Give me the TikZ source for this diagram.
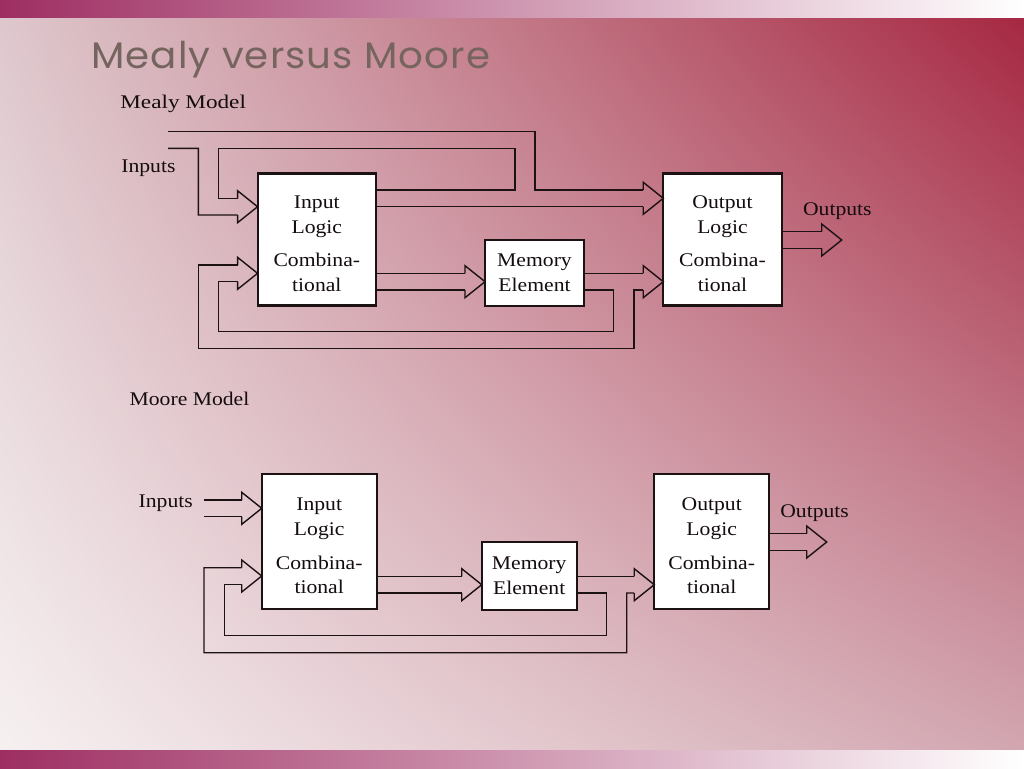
\documentclass[tikz,border=0pt]{standalone}
\usepackage{fontspec}
\setmainfont{Liberation Serif}
\newfontfamily\labelfont[FakeStretch=1.12]{Liberation Serif}
\newfontfamily\widefont[FakeStretch=1.2]{Liberation Serif}
\newfontfamily\titlefont[FakeStretch=1.05, LetterSpace=3]{Poppins}
\newcommand\boxfont{\labelfont\fontsize{11}{14.2}\selectfont}
\newcommand\logictext[1]{\rule{0pt}{12pt}#1\\Logic\\[5pt]Combina-\\tional}
\usetikzlibrary{shadings}
\definecolor{bgtl}{RGB}{222,200,205}
\definecolor{bgtr}{RGB}{166,40,66}
\definecolor{bgbl}{RGB}{246,240,241}
\definecolor{bgbr}{RGB}{210,166,176}
\definecolor{barcolor}{RGB}{158,46,98}
\definecolor{titlecolor}{RGB}{118,100,94}
\definecolor{textcolor}{RGB}{20,12,14}
\definecolor{wirecolor}{RGB}{28,18,20}
\tikzset{
  box/.style={
    draw=wirecolor,
    fill=white,
    line width=1.2pt,
    align=center,
    inner sep=0pt,
    outer sep=0pt,
    font=\boxfont,
    text=textcolor
  },
  logicbox/.style={box, minimum width=2.37cm, minimum height=2.64cm},
  memorybox/.style={box, minimum width=1.98cm, minimum height=1.32cm},
  wire/.style={draw=wirecolor, line width=0.8pt},
  modeltext/.style={anchor=base west, inner sep=0pt, font=\boxfont, text=textcolor},
  hollowhead/.pic={
    \draw[wire] (-20,-8.3) -- (-20,-16) -- (0,0) -- (-20,16) -- (-20,8.3);
    \coordinate (-top) at (-20,-8.3);
    \coordinate (-bot) at (-20,8.3);
  }
}

\begin{document}
\begin{tikzpicture}[x=0.02cm,y=-0.02cm]
  \useasboundingbox (0,0) rectangle (1024,768);
  \shade[upper left=bgtl, upper right=bgtr, lower left=bgbl, lower right=bgbr]
    (0,17) rectangle (1024,750);
  \shade[left color=barcolor, middle color=barcolor!35!white, right color=white]
    (0,0) rectangle (1024,17);
  \shade[left color=barcolor, middle color=barcolor!35!white, right color=white]
    (0,750) rectangle (1024,768);

  \node[anchor=base west, inner sep=0pt, text=titlecolor,
    font=\titlefont\fontsize{21}{24}\selectfont] (title) at (91,68)
    {Mealy versus Moore};

  % Mealy model.
  \node[modeltext, font=\widefont\fontsize{11}{14}\selectfont] (mealy) at (120,108) {Mealy Model};
  \node[modeltext] (inlabelA) at (121,172.7) {Inputs};
  \node[modeltext] (outlabelA) at (802.7,215.7) {Outputs};

  \node[logicbox] (inA) at (316.8,239.5) {\logictext{Input}};
  \node[memorybox] (memA) at (534.5,272.8) {Memory\\Element};
  \node[logicbox] (outA) at (722.5,239.5) {\logictext{Output}};

  \pic (hA1) at (inA.west |- 0,206.7) {hollowhead};
  \pic (hA2) at (inA.west |- 0,273.3) {hollowhead};
  \pic (hA3) at (memA.west |- 0,281.7) {hollowhead};
  \pic (hA4) at (outA.west |- 0,198.3) {hollowhead};
  \pic (hA5) at (outA.west |- 0,281.7) {hollowhead};
  \pic (hA6) at (841.7,240) {hollowhead};

  \coordinate (inputsA) at (168,131.7);
  \draw[wire] (inputsA) -| (535,190) -- (hA4-top);
  \draw[wire] (inputsA |- 0,148.3) -| (198.3,215) -- (hA1-bot);
  \draw[wire] (inA.east |- hA4-top) -| (515,148.3) -| (218.3,198.4) -- (hA1-top);
  \draw[wire] (inA.east |- hA4-bot) -- (hA4-bot);
  \draw[wire] (inA.east |- hA3-top) -- (hA3-top);
  \draw[wire] (inA.east |- hA3-bot) -- (hA3-bot);
  \draw[wire] (memA.east |- hA5-top) -- (hA5-top);
  \draw[wire] (memA.east |- hA5-bot) -| (613.3,331.7) -| (218.3,281.6) -- (hA2-bot);
  \draw[wire] (hA5-bot) -| (634,348.3) -| (198.3,265) -- (hA2-top);
  \draw[wire] (outA.east |- hA6-top) -- (hA6-top);
  \draw[wire] (outA.east |- hA6-bot) -- (hA6-bot);

  % Moore model.
  \node[modeltext] (moore) at (129.3,405.7) {Moore Model};
  \node[modeltext] (inlabelB) at (138.3,507.3) {Inputs};
  \node[modeltext] (outlabelB) at (780,517.7) {Outputs};

  \node[logicbox, minimum width=2.3cm, minimum height=2.7cm] (inB) at (319.2,541.7)
    {\logictext{Input}};
  \node[memorybox, minimum width=1.9cm, minimum height=1.36cm] (memB) at (529.2,575.6)
    {Memory\\Element};
  \node[logicbox, minimum width=2.3cm, minimum height=2.7cm] (outB) at (711.7,541.7)
    {\logictext{Output}};

  \pic (hB1) at (inB.west |- 0,508.3) {hollowhead};
  \pic (hB2) at (inB.west |- 0,576) {hollowhead};
  \pic (hB3) at (memB.west |- 0,584.7) {hollowhead};
  \pic (hB4) at (outB.west |- 0,584.7) {hollowhead};
  \pic (hB5) at (826.7,542) {hollowhead};

  \coordinate (inputsB) at (204,500);
  \draw[wire] (inputsB) -- (hB1-top);
  \draw[wire] (inputsB |- hB1-bot) -- (hB1-bot);
  \draw[wire] (inB.east |- hB3-top) -- (hB3-top);
  \draw[wire] (inB.east |- hB3-bot) -- (hB3-bot);
  \draw[wire] (memB.east |- hB4-top) -- (hB4-top);
  \draw[wire] (memB.east |- hB4-bot) -| (606.7,635.5) -| (224.3,584.3) -- (hB2-bot);
  \draw[wire] (hB4-bot) -| (626.7,652.7) -| (204,567.7) -- (hB2-top);
  \draw[wire] (outB.east |- hB5-top) -- (hB5-top);
  \draw[wire] (outB.east |- hB5-bot) -- (hB5-bot);

\end{tikzpicture}
\end{document}
